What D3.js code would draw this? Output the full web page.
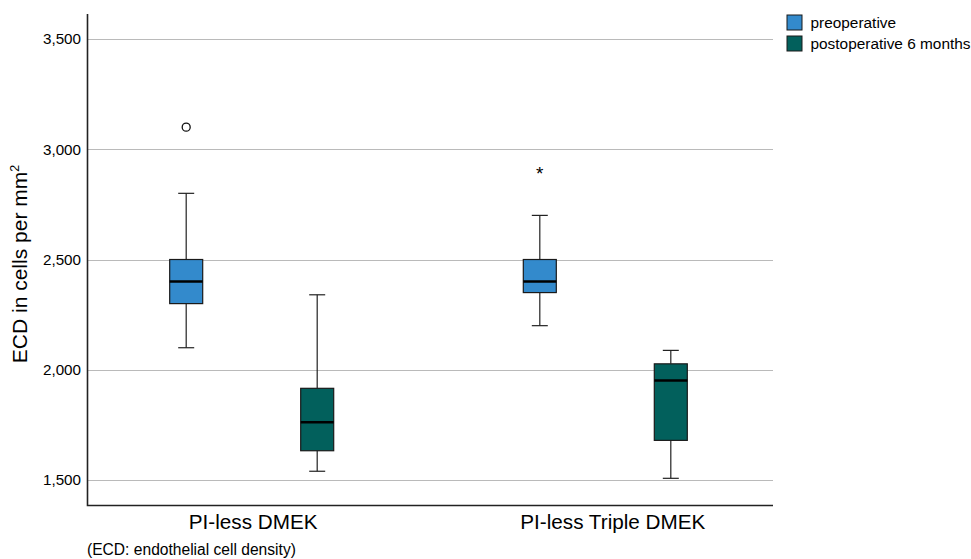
<!DOCTYPE html>
<html>
<head>
<meta charset="utf-8">
<script src="https://cdn.jsdelivr.net/npm/d3@7"></script>
<style>
  body { margin: 0; background: #fff; }
  text { font-family: "Liberation Sans", Arial, sans-serif; fill: #000; }
</style>
</head>
<body>
<script>
const width = 971;
const height = 559;

// categories and series
var groups = ["PI-less DMEK", "PI-less Triple DMEK"];
var series = ["preoperative", "postoperative 6 months"];
var colors = ["#338acc", "#02605c"];

// box statistics, one entry per box: [group, series]
var boxGroup  = [0, 0, 1, 1];
var boxSeries = [0, 1, 0, 1];
var whiskerLo = [2100, 1540, 2200, 1508];
var q1        = [2300, 1633, 2350, 1680];
var median    = [2400, 1762, 2400, 1952];
var q3        = [2500, 1916, 2500, 2027];
var whiskerHi = [2800, 2340, 2700, 2088];

// outliers: circle = mild, star = extreme
var outGroup  = [0, 1];
var outSeries = [0, 0];
var outValue  = [3100, 2895];
var outKind   = ["circle", "star"];

var yTicks = [1500, 2000, 2500, 3000, 3500];

var svg = d3.select("body")
 .append("svg")
 .attr("width", width)
 .attr("height", height);

var plotLeft = 87, plotRight = 773, plotTop = 14, plotBottom = 505;

var x = d3.scalePoint()
 .domain(groups)
 .range([plotLeft - 1.5, plotRight - 1.5])
 .padding(0.47);

var offset = d3.scalePoint()
 .domain(series)
 .range([-65.5, 65.5]);

var y = d3.scaleLinear()
 .domain([1387, 3613])
 .range([plotBottom, plotTop]);

var boxW = 33;

//Gridlines

svg.append("g")
 .selectAll("line")
 .data(yTicks)
 .join("line")
 .attr("x1", plotLeft)
 .attr("x2", plotRight)
 .attr("y1", d => Math.round(y(d)) + 0.5)
 .attr("y2", d => Math.round(y(d)) + 0.5)
 .attr("stroke", "#bababa")
 .attr("stroke-width", 1.2);

//Y axis with labels only

var y_axis = d3.axisLeft(y)
 .tickValues(yTicks)
 .tickFormat(d3.format(","))
 .tickSize(0)
 .tickPadding(6);

var yg = svg.append("g")
 .attr("transform", "translate(" + plotLeft + ",0)")
 .call(y_axis);
yg.select(".domain").remove();
yg.selectAll("text").style("font-size", "15.2px").attr("fill", "#000");

//X axis labels

var x_axis = d3.axisBottom(x).tickSize(0).tickPadding(9);
var xg = svg.append("g")
 .attr("transform", "translate(0," + plotBottom + ")")
 .call(x_axis);
xg.select(".domain").remove();
xg.selectAll("text").style("font-size", "20.7px").attr("fill", "#000")
 .attr("dx", (d, i) => i == 1 ? 7 : 1);

//Axis frame lines

svg.append("path")
 .attr("d", "M" + (plotLeft + 0.5) + "," + plotTop + "V" + (plotBottom + 0.5) + "H" + plotRight)
 .attr("fill", "none")
 .attr("stroke", "#222")
 .attr("stroke-width", 1.6);

//Boxes

var idx = d3.range(boxGroup.length);
var cx = i => x(groups[boxGroup[i]]) + offset(series[boxSeries[i]]);

var boxes = svg.append("g").selectAll("g").data(idx).join("g");

boxes.append("line")
 .attr("x1", cx).attr("x2", cx)
 .attr("y1", i => y(whiskerHi[i])).attr("y2", i => y(q3[i]))
 .attr("stroke", "#222").attr("stroke-width", 1.2);
boxes.append("line")
 .attr("x1", cx).attr("x2", cx)
 .attr("y1", i => y(q1[i])).attr("y2", i => y(whiskerLo[i]))
 .attr("stroke", "#222").attr("stroke-width", 1.2);
boxes.append("line")
 .attr("x1", i => cx(i) - 8).attr("x2", i => cx(i) + 8)
 .attr("y1", i => y(whiskerHi[i])).attr("y2", i => y(whiskerHi[i]))
 .attr("stroke", "#222").attr("stroke-width", 1.2);
boxes.append("line")
 .attr("x1", i => cx(i) - 8).attr("x2", i => cx(i) + 8)
 .attr("y1", i => y(whiskerLo[i])).attr("y2", i => y(whiskerLo[i]))
 .attr("stroke", "#222").attr("stroke-width", 1.2);
boxes.append("rect")
 .attr("x", i => cx(i) - boxW / 2)
 .attr("width", boxW)
 .attr("y", i => y(q3[i]))
 .attr("height", i => y(q1[i]) - y(q3[i]))
 .attr("fill", i => colors[boxSeries[i]])
 .attr("stroke", "#1a1a1a").attr("stroke-width", 1.2);
boxes.append("line")
 .attr("x1", i => cx(i) - boxW / 2).attr("x2", i => cx(i) + boxW / 2)
 .attr("y1", i => y(median[i])).attr("y2", i => y(median[i]))
 .attr("stroke", "#000").attr("stroke-width", 2.5);

//Outliers

var oIdx = d3.range(outValue.length);
var ox = i => x(groups[outGroup[i]]) + offset(series[outSeries[i]]);
svg.append("g").selectAll("circle")
 .data(oIdx.filter(i => outKind[i] == "circle"))
 .join("circle")
 .attr("cx", ox).attr("cy", i => y(outValue[i]))
 .attr("r", 4)
 .attr("fill", "none").attr("stroke", "#111").attr("stroke-width", 1.3);
svg.append("g").selectAll("text")
 .data(oIdx.filter(i => outKind[i] == "star"))
 .join("text")
 .attr("x", ox).attr("y", i => y(outValue[i]) + 8)
 .attr("text-anchor", "middle")
 .style("font-size", "19px")
 .text("*");

//Y axis title

svg.append("text")
 .attr("transform", "translate(27," + 264 + ") rotate(-90)")
 .attr("text-anchor", "middle")
 .style("font-size", "21px")
 .html("ECD in cells per mm<tspan dy='-8' style='font-size:12.5px'>2</tspan>");

//Legend

var legend = svg.append("g").selectAll("g")
 .data(series)
 .join("g")
 .attr("transform", (d, i) => "translate(787," + (15 + i * 21) + ")");
legend.append("rect")
 .attr("width", 15).attr("height", 15)
 .attr("fill", (d, i) => colors[i])
 .attr("stroke", "#1a1a1a").attr("stroke-width", 1);
legend.append("text")
 .attr("x", 23.5).attr("y", 13)
 .style("font-size", "15.4px")
 .text(d => d);

//Footnote

svg.append("text")
 .attr("x", 87).attr("y", 555)
 .style("font-size", "15.6px")
 .text("(ECD: endothelial cell density)");
</script>
</body>
</html>
